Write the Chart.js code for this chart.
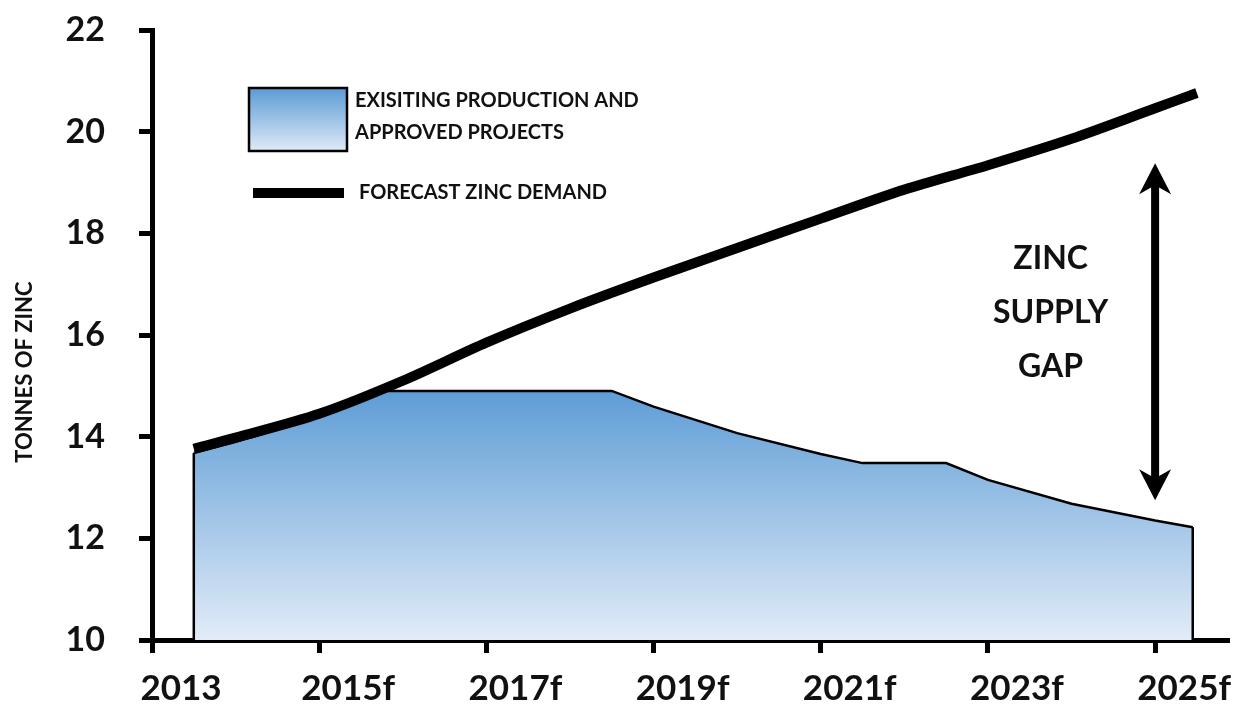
<!DOCTYPE html>
<html><head><meta charset="utf-8">
<script src="https://cdn.jsdelivr.net/npm/chart.js@4.4.1/dist/chart.umd.min.js"></script>
<style>html,body{margin:0;padding:0;background:#fff;}#wrap{width:1244px;height:709px;}</style>
</head><body><div id="wrap"><canvas id="c" width="1244" height="709"></canvas></div>
<script>
// ---- data ----
const demandYears  = [2013.5, 2014, 2015, 2016, 2017, 2018, 2019, 2020, 2021, 2022, 2023, 2024, 2025, 2025.5];
const demandValues = [13.76, 13.98, 14.45, 15.10, 15.85, 16.52, 17.13, 17.71, 18.29, 18.86, 19.34, 19.86, 20.46, 20.76];
const supplyYears  = [2013.5, 2014, 2015, 2015.8, 2016, 2017, 2018, 2018.5, 2019, 2020, 2021, 2021.5, 2022, 2022.5, 2023, 2024, 2025, 2025.45];
const supplyValues = [13.68, 13.90, 14.38, 14.90, 14.90, 14.90, 14.90, 14.90, 14.59, 14.07, 13.66, 13.48, 13.48, 13.48, 13.15, 12.68, 12.35, 12.22];
const tickYears  = [2013, 2015, 2017, 2019, 2021, 2023, 2025];
const tickLabels = ['2013', '2015f', '2017f', '2019f', '2021f', '2023f', '2025f'];
const supplyLabel = ['EXISITING PRODUCTION AND', 'APPROVED PROJECTS'];
const demandLabel = 'FORECAST ZINC DEMAND';
const yTitle = 'TONNES OF ZINC';
const gapLines = ['ZINC', 'SUPPLY', 'GAP'];

// annotation placement (in data units)
const gapArrow = { x: 2025, top: 19.38, bottom: 12.75 };
const gapText = { x: 2023.75, ys: [17.51, 16.43, 15.37] };
const yTitleCenter = 15.27;

const FONT = 'Lato, "Open Sans", sans-serif';
const TXT = '#111';

function fillGradient(ctx, y0, y1, c0, c1) {
  const g = ctx.createLinearGradient(0, y0, 0, y1);
  g.addColorStop(0, c0); g.addColorStop(1, c1);
  return g;
}

const overlay = {
  id: 'overlay',
  afterDatasetDraw(chart, args) {
    if (args.index !== 0) return;
    const pts = args.meta.data;
    const ctx = chart.ctx;
    const yb = chart.scales.y.getPixelForValue(chart.scales.y.min);
    ctx.save();
    ctx.strokeStyle = '#000'; ctx.lineWidth = 2.5;
    [pts[0], pts[pts.length - 1]].forEach(p => {
      ctx.beginPath(); ctx.moveTo(p.x, p.y); ctx.lineTo(p.x, yb); ctx.stroke();
    });
    ctx.restore();
  },
  afterDraw(chart) {
    const ctx = chart.ctx, ca = chart.chartArea;
    const xs = chart.scales.x, ys = chart.scales.y;
    ctx.save();
    // legend
    const bx = ca.left + 97, by = ca.top + 58, bw = 98, bh = 63;
    ctx.fillStyle = fillGradient(ctx, by, by + bh, '#5b9bd5', '#dfeaf7');
    ctx.fillRect(bx, by, bw, bh);
    ctx.strokeStyle = '#000'; ctx.lineWidth = 2.5;
    ctx.strokeRect(bx, by, bw, bh);
    ctx.fillStyle = TXT;
    ctx.font = 'bold 20px ' + FONT;
    ctx.textAlign = 'left'; ctx.textBaseline = 'middle';
    ctx.fillText(supplyLabel[0], bx + 106, by + 13);
    ctx.fillText(supplyLabel[1], bx + 106, by + 45);
    ctx.beginPath(); ctx.lineWidth = 10; ctx.lineCap = 'butt';
    ctx.moveTo(bx + 4, by + 105); ctx.lineTo(bx + 95, by + 105); ctx.stroke();
    ctx.fillText(demandLabel, bx + 110, by + 105);

    // y axis title
    ctx.save();
    ctx.translate(25, ys.getPixelForValue(yTitleCenter));
    ctx.rotate(-Math.PI / 2);
    ctx.font = 'bold 22px ' + FONT;
    ctx.textAlign = 'center'; ctx.textBaseline = 'middle';
    ctx.fillText(yTitle, 0, 0);
    ctx.restore();

    // gap text
    ctx.font = 'bold 32px ' + FONT;
    ctx.textAlign = 'center'; ctx.textBaseline = 'middle';
    const gx = xs.getPixelForValue(gapText.x);
    gapLines.forEach((t, i) => ctx.fillText(t, gx, ys.getPixelForValue(gapText.ys[i])));

    // double arrow
    const ax = xs.getPixelForValue(gapArrow.x);
    const yt = ys.getPixelForValue(gapArrow.top), yb = ys.getPixelForValue(gapArrow.bottom);
    ctx.fillStyle = '#000';
    ctx.fillRect(ax - 4, yt + 20, 8, (yb - yt) - 40);
    ctx.beginPath();
    ctx.moveTo(ax, yt); ctx.lineTo(ax + 16, yt + 31); ctx.lineTo(ax, yt + 22); ctx.lineTo(ax - 16, yt + 31); ctx.closePath(); ctx.fill();
    ctx.beginPath();
    ctx.moveTo(ax, yb); ctx.lineTo(ax + 16, yb - 31); ctx.lineTo(ax, yb - 22); ctx.lineTo(ax - 16, yb - 31); ctx.closePath(); ctx.fill();
    ctx.restore();
  }
};

const axisGrid = { drawOnChartArea: false, drawTicks: true, tickLength: 13, tickWidth: 5, tickColor: '#000', lineWidth: 5, color: '#000' };
const axisBorder = { display: true, color: '#000', width: 5 };

new Chart(document.getElementById('c'), {
  type: 'line',
  data: {
    datasets: [
      {
        label: supplyLabel.join(' '),
        data: supplyYears.map((x, i) => ({ x, y: supplyValues[i] })),
        fill: 'origin',
        backgroundColor(c) {
          const ch = c.chart;
          if (!ch.chartArea) return '#8fb4e0';
          const y = ch.scales.y;
          return fillGradient(ch.ctx, y.getPixelForValue(15), y.getPixelForValue(10), '#5b9bd5', '#e2ecf8');
        },
        borderColor: '#000', borderWidth: 2.5, pointRadius: 0, tension: 0, order: 1
      },
      {
        label: demandLabel,
        data: demandYears.map((x, i) => ({ x, y: demandValues[i] })),
        fill: false, borderColor: '#000', borderWidth: 10, borderCapStyle: 'butt', borderJoinStyle: 'round',
        pointRadius: 0, tension: 0.3, order: 0
      }
    ]
  },
  options: {
    responsive: false, animation: false, devicePixelRatio: 1,
    layout: { padding: { top: 30, right: 17, left: 0, bottom: 0 } },
    plugins: { legend: { display: false }, tooltip: { enabled: false } },
    scales: {
      x: {
        type: 'linear', min: 2013, max: 2025.86,
        afterBuildTicks(s) { s.ticks = tickYears.map(v => ({ value: v })); },
        ticks: {
          callback: (v, i) => tickLabels[i],
          font: { family: FONT, weight: 'bold', size: 35 }, color: TXT,
          padding: 15, labelOffset: 29, maxRotation: 0, autoSkip: false
        },
        grid: axisGrid, border: axisBorder,
        afterFit(s) { s.height = 69; s.paddingLeft = 0; s.paddingRight = 0; }
      },
      y: {
        min: 10, max: 22,
        ticks: { stepSize: 2, font: { family: FONT, weight: 'bold', size: 34 }, color: TXT, padding: 34 },
        grid: axisGrid, border: axisBorder,
        afterFit(s) { s.width = 152; s.paddingTop = 0; s.paddingBottom = 0; }
      }
    }
  },
  plugins: [overlay]
});
</script>
</body></html>
